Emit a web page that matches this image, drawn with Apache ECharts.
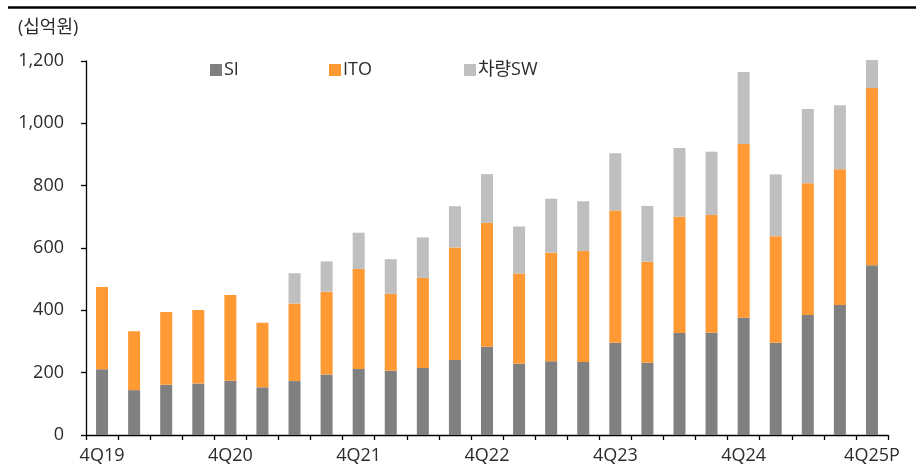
<!DOCTYPE html>
<html>
<head>
<meta charset="utf-8">
<script src="https://cdn.jsdelivr.net/npm/echarts@6/dist/echarts.min.js"></script>
<style>
html,body{margin:0;padding:0;background:#fff;}
#c{width:919px;height:472px;}
</style>
</head>
<body>
<div id="c"></div>
<script>
const categories = ['4Q19','1Q20','2Q20','3Q20','4Q20','1Q21','2Q21','3Q21','4Q21','1Q22','2Q22','3Q22','4Q22','1Q23','2Q23','3Q23','4Q23','1Q24','2Q24','3Q24','4Q24','1Q25','2Q25','3Q25','4Q25P'];
const siValues  = [211,144,161,165,174,153,173,194,212,206,215,241,283,229,237,234,296,232,327,328,376,296,385,417,545];
const itoValues = [264,189,234,236,275,207,249,266,321,247,289,361,398,289,348,356,424,324,373,378,558,342,423,436,568];
const swValues  = [0,0,0,0,0,0,97,97,116,111,130,132,156,151,173,160,184,179,221,203,231,198,238,205,90];
const yTicks = [0,200,400,600,800,1000,1200];
const seriesNames = ['SI','ITO','차량SW'];
const colors = ['#808080','#FF9933','#BFBFBF'];

const FONT = '"Open Sans", "Noto Sans CJK KR", sans-serif';
const TXT = '#2b2b2b';

const chart = echarts.init(document.getElementById('c'), null, {renderer:'canvas'});
const legendLefts = [205, 324, 459];
const option = {
  animation: false,
  textStyle: {fontFamily: FONT},
  grid: {left: 86, right: 31, top: 61, bottom: 37, containLabel: false},
  legend: seriesNames.map((n, i) => ({
    data: [n], left: legendLefts[i], top: 56,
    itemWidth: 12, itemHeight: 12, itemGap: 0,
    icon: 'rect',
    textStyle: {fontFamily: FONT, fontSize: 18, color: TXT, padding: [0,0,0,-3]}
  })),
  graphic: [
    {type: 'line', shape: {x1: 8, y1: 7.5, x2: 916, y2: 7.5}, style: {stroke: '#000', lineWidth: 2.5}},
    {type: 'text', left: 18, top: 19, style: {text: '(십억원)', font: '18px ' + FONT, fill: TXT}}
  ],
  xAxis: {
    type: 'category',
    data: categories,
    boundaryGap: true,
    axisLine: {lineStyle: {color: '#000', width: 1.3}},
    axisTick: {show: true, interval: 0, length: 5, lineStyle: {color: '#000', width: 1.3}},
    axisLabel: {interval: 3, fontSize: 18, color: TXT, margin: 12, fontFamily: FONT}
  },
  yAxis: {
    type: 'value',
    min: yTicks[0], max: yTicks[yTicks.length-1], interval: 200,
    axisLine: {show: true, lineStyle: {color: '#000', width: 1.3}},
    axisTick: {show: true, length: 5, lineStyle: {color: '#000', width: 1.3}},
    splitLine: {show: false},
    axisLabel: {fontSize: 18, color: TXT, margin: 22, fontFamily: FONT,
      formatter: v => v.toLocaleString('en-US')}
  },
  series: [
    {name: seriesNames[0], type: 'bar', stack: 'total', data: siValues, barWidth: 12, clip: false, itemStyle: {color: colors[0]}},
    {name: seriesNames[1], type: 'bar', stack: 'total', data: itoValues, barWidth: 12, clip: false, itemStyle: {color: colors[1]}},
    {name: seriesNames[2], type: 'bar', stack: 'total', data: swValues, barWidth: 12, clip: false, itemStyle: {color: colors[2]}}
  ]
};
chart.setOption(option);
</script>
</body>
</html>
